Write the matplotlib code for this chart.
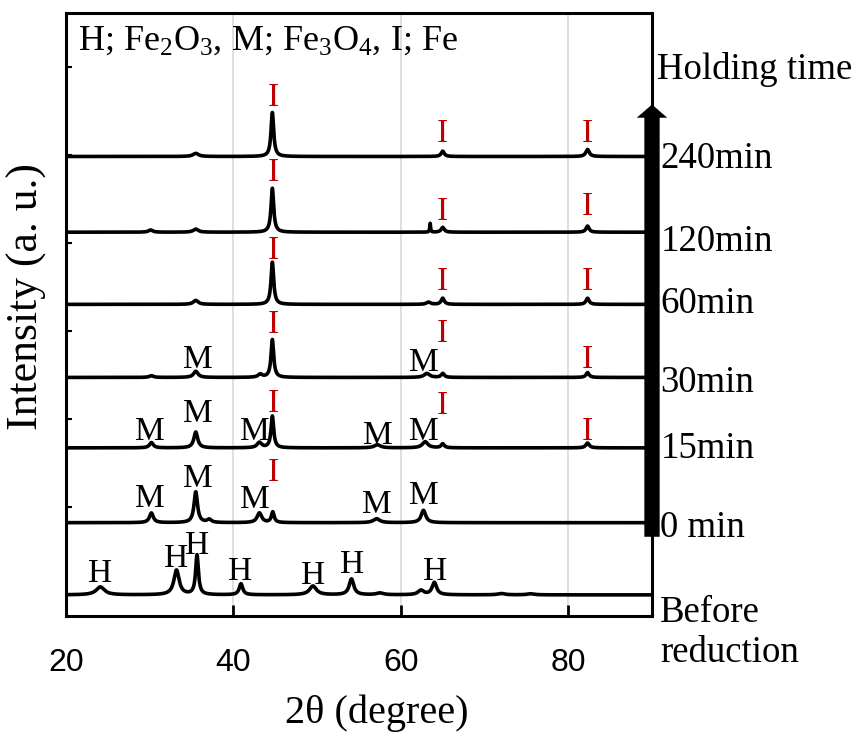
import numpy as np
import matplotlib
matplotlib.use("Agg")
from matplotlib import pyplot as plt

plt.rcParams['font.family'] = ['Liberation Serif', 'DejaVu Serif']
plt.rcParams['mathtext.fontset'] = 'custom'
plt.rcParams['mathtext.rm'] = 'Liberation Serif'
plt.rcParams['mathtext.it'] = 'Liberation Serif'

# sample names, bottom to top, and the baseline of each stacked pattern
samples = ["Before\nreduction", "0 min", "15min", "30min", "60min", "120min", "240min"]
offsets = [0.0, 0.82, 1.67, 2.47, 3.30, 4.12, 4.98]

# peaks: centre (2theta), height above baseline, fwhm
before_pos = [24.1, 33.2, 35.65, 40.9, 49.5, 54.1, 57.5, 62.4, 64.0, 72.0, 75.5]
before_h = [0.09, 0.28, 0.45, 0.125, 0.10, 0.18, 0.02, 0.05, 0.14, 0.015, 0.012]
before_w = [1.2, 0.75, 0.4, 0.5, 1.0, 0.65, 1.0, 0.8, 0.65, 1.0, 1.0]

min0_pos = [30.2, 35.5, 37.1, 43.1, 44.7, 57.1, 62.7]
min0_h = [0.11, 0.35, 0.035, 0.11, 0.12, 0.045, 0.14]
min0_w = [0.55, 0.5, 0.6, 0.65, 0.4, 0.9, 0.65]

min15_pos = [30.2, 35.5, 43.1, 44.65, 57.2, 62.9, 65.0, 82.3]
min15_h = [0.06, 0.18, 0.06, 0.36, 0.035, 0.07, 0.045, 0.055]
min15_w = [0.55, 0.55, 0.65, 0.38, 0.9, 0.8, 0.45, 0.5]

min30_pos = [30.2, 35.5, 43.2, 44.65, 63.1, 65.0, 82.3]
min30_h = [0.02, 0.07, 0.035, 0.43, 0.045, 0.045, 0.055]
min30_w = [0.6, 0.65, 0.6, 0.38, 0.8, 0.45, 0.45]

min60_pos = [35.5, 44.65, 63.3, 65.0, 82.3]
min60_h = [0.045, 0.48, 0.025, 0.07, 0.07]
min60_w = [0.7, 0.38, 0.6, 0.45, 0.45]

min120_pos = [30.1, 35.5, 44.65, 63.5, 65.0, 82.3]
min120_h = [0.025, 0.035, 0.50, 0.10, 0.055, 0.07]
min120_w = [0.6, 0.7, 0.38, 0.12, 0.45, 0.45]

min240_pos = [35.5, 44.65, 65.0, 82.3]
min240_h = [0.035, 0.50, 0.06, 0.08]
min240_w = [0.8, 0.38, 0.45, 0.5]

patterns = [
    (before_pos, before_h, before_w),
    (min0_pos, min0_h, min0_w),
    (min15_pos, min15_h, min15_w),
    (min30_pos, min30_h, min30_w),
    (min60_pos, min60_h, min60_w),
    (min120_pos, min120_h, min120_w),
    (min240_pos, min240_h, min240_w),
]

# phase labels: (letter, x, baseline y)
labels = [
    ("H", 24.07, 0.15), ("H", 33.16, 0.32), ("H", 35.67, 0.46), ("H", 40.8, 0.17),
    ("H", 49.55, 0.12), ("H", 54.2, 0.25), ("H", 64.1, 0.17),
    ("M", 30.05, 1.0), ("M", 35.8, 1.23), ("M", 42.6, 0.99), ("I", 44.76, 1.29),
    ("M", 57.1, 0.93), ("M", 62.7, 1.03),
    ("M", 30.05, 1.76), ("M", 35.8, 1.96), ("M", 42.6, 1.76), ("I", 44.76, 2.08),
    ("M", 57.2, 1.71), ("M", 62.8, 1.76), ("I", 65.0, 2.06), ("I", 82.3, 1.76),
    ("M", 35.8, 2.58), ("I", 44.76, 2.98), ("M", 62.7, 2.54), ("I", 65.0, 2.87),
    ("I", 82.3, 2.58),
    ("I", 44.76, 3.82), ("I", 65.0, 3.46), ("I", 82.3, 3.46),
    ("I", 44.76, 4.70), ("I", 65.0, 4.26), ("I", 82.3, 4.31),
    ("I", 44.76, 5.55), ("I", 65.0, 5.14), ("I", 82.3, 5.14),
]

# baselines of the right-hand sample names (last line for the two-line one)
sample_text_y = [-0.76, 0.66, 1.55, 2.30, 3.20, 3.91, 4.85]


def profile(x, pos, h, w):
    y = np.zeros_like(x)
    for p, a, g in zip(pos, h, w):
        hw = g / 2.0
        y += a * hw**2 / ((x - p)**2 + hw**2)
    return y


fig = plt.figure(figsize=(8.57, 7.33), dpi=100)
ax = fig.add_axes([66/857, 1 - 616/733, 586/857, 603/733])

x = np.linspace(20, 90, 7001)
for (pos, h, w), off in zip(patterns, offsets):
    ax.plot(x, off + profile(x, pos, h, w), color='black', lw=2.6, zorder=3)

for txt, lx, ly in labels:
    col = '#c00000' if txt == "I" else 'black'
    ax.text(lx, ly, txt, color=col, fontsize=24, ha='center', va='baseline', zorder=4)

ax.text(21.4, 6.19, r"H; Fe$_2$O$_3$, M; Fe$_3$O$_4$, I; Fe", fontsize=26,
        ha='left', va='baseline')

for name, ty in zip(samples, sample_text_y):
    ax.text(91.0, ty, name, fontsize=26.5, ha='left', va='baseline', clip_on=False,
            linespacing=1.2)
ax.text(90.6, 5.86, "Holding time", fontsize=26.5, ha='left', va='baseline', clip_on=False)

ax.annotate('', xy=(90, 5.57), xytext=(90, 0.66),
            arrowprops=dict(arrowstyle='simple,head_length=0.95,head_width=2.2,tail_width=1.1',
                            fc='black', ec='black', lw=0, shrinkA=0, shrinkB=0),
            annotation_clip=False, zorder=5)

ax.set_xlim(20, 90)
ax.set_ylim(-0.24, 6.61)
ax.set_xticks([20, 40, 60, 80])
ax.set_yticks(range(0, 7))
ax.set_yticklabels([])
for lbl in ax.get_xticklabels():
    lbl.set_fontfamily('Liberation Sans')
ax.tick_params(axis='x', direction='in', length=8, width=2, labelsize=23, pad=23)
ax.tick_params(axis='y', direction='in', length=4, width=1.5)
ax.xaxis.grid(True, color='#d9d9d9', lw=1.2)
ax.set_axisbelow(True)
for s in ax.spines.values():
    s.set_linewidth(2.2)

ax.set_xlabel("2θ (degree)", fontsize=29)
ax.xaxis.set_label_coords(0.531, -0.13)
ax.set_ylabel("Intensity (a. u.)", fontsize=31.5)
ax.yaxis.set_label_coords(-0.032, 0.53)

fig.savefig("out.png", dpi=100)
